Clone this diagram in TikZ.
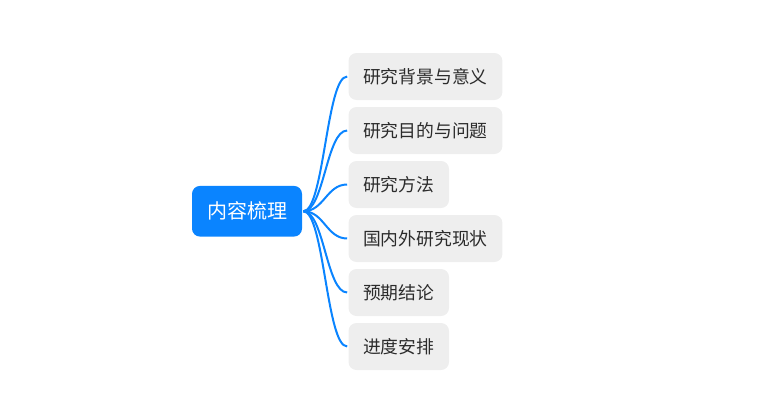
\documentclass[tikz,border=0pt]{standalone}
\usepackage{fontspec}
\setmainfont{Noto Sans CJK SC}
\usepackage{tikz}
\usetikzlibrary{positioning}
\definecolor{rootblue}{HTML}{0A84FF}
\definecolor{itemgray}{HTML}{EEEEEE}
\definecolor{itemtext}{HTML}{2B2B2B}
\tikzstyle{root} = [rectangle, rounded corners=6pt, outer sep=0pt, minimum width=82.5pt, minimum height=38pt, text centered, fill=rootblue, text=white, font=\fontsize{15pt}{17pt}\selectfont]
\tikzstyle{item} = [rectangle, rounded corners=6pt, outer sep=0pt, minimum height=35.25pt, inner xsep=11pt, inner ysep=0pt, fill=itemgray, text=itemtext, font=\fontsize{13.35pt}{16pt}\selectfont]
\tikzstyle{link} = [line width=1.5pt, draw=rootblue, shorten <=1pt, shorten >=1pt]

\begin{document}
\begin{tikzpicture}[x=0.75pt,y=-0.75pt]
\useasboundingbox (0,0) rectangle (771,414);

% Nodes
\node (content) [root] at (247,211.25) {内容梳理};
\node (background) [item, anchor=north west] at (348.5,53) {研究背景与意义};
\node (aim) [item, below=5.25pt of background.south west, anchor=north west] {研究目的与问题};
\node (method) [item, below=5.25pt of aim.south west, anchor=north west] {研究方法};
\node (status) [item, below=5.25pt of method.south west, anchor=north west] {国内外研究现状};
\node (result) [item, below=5.25pt of status.south west, anchor=north west] {预期结论};
\node (schedule) [item, below=5.25pt of result.south west, anchor=north west] {进度安排};

% Arrows
\draw [link] (content.east) .. controls +(22,0) and +(-22,0) .. (background.west);
\draw [link] (content.east) .. controls +(22,0) and +(-22,0) .. (aim.west);
\draw [link] (content.east) .. controls +(22,0) and +(-22,0) .. (method.west);
\draw [link] (content.east) .. controls +(22,0) and +(-22,0) .. (status.west);
\draw [link] (content.east) .. controls +(22,0) and +(-22,0) .. (result.west);
\draw [link] (content.east) .. controls +(22,0) and +(-22,0) .. (schedule.west);

\end{tikzpicture}
\end{document}
